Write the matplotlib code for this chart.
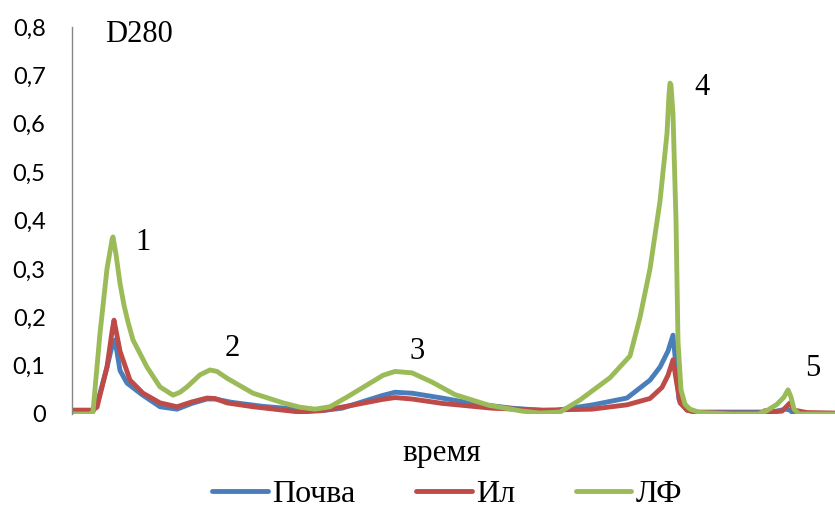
import matplotlib
matplotlib.use("Agg")
import matplotlib.pyplot as plt
from matplotlib.ticker import FuncFormatter

# --- data (time in arbitrary units, D280) ---
soil_t = [0, 20, 25, 35, 40, 43, 48, 55, 70, 88, 105, 120, 135, 143, 160, 190,
          230, 250, 270, 290, 310, 323, 340, 370, 400, 440, 480, 521, 555, 578,
          588, 596, 601, 604, 607, 615, 625, 660, 700, 714, 718, 722, 763]
soil_v = [0.002, 0.002, 0.02, 0.097, 0.14, 0.153, 0.09, 0.064, 0.04, 0.015, 0.01,
          0.022, 0.031, 0.031, 0.024, 0.016, 0.009, 0.007, 0.012, 0.025, 0.038,
          0.045, 0.043, 0.033, 0.022, 0.012, 0.006, 0.019, 0.033, 0.07, 0.097,
          0.13, 0.163, 0.10, 0.03, 0.008, 0.004, 0.004, 0.004, 0.01, 0.008, 0.0, 0.0]

silt_t = [0, 20, 25, 35, 40, 42, 48, 58, 71, 88, 105, 120, 135, 143, 155, 181,
          228, 250, 280, 310, 323, 340, 370, 420, 470, 520, 555, 578, 590, 596,
          601, 605, 608, 615, 625, 660, 690, 693, 697, 710, 718, 722, 735, 763]
silt_v = [0.008, 0.008, 0.014, 0.097, 0.17, 0.194, 0.13, 0.07, 0.043, 0.023, 0.015,
          0.025, 0.033, 0.032, 0.023, 0.015, 0.004, 0.007, 0.018, 0.03, 0.034,
          0.031, 0.022, 0.012, 0.008, 0.01, 0.019, 0.032, 0.055, 0.08, 0.112,
          0.06, 0.023, 0.008, 0.003, 0.002, 0.002, 0.007, 0.004, 0.006, 0.023,
          0.008, 0.003, 0.002]

lf_t = [0, 18, 21, 28, 35, 40, 41, 44, 48, 52, 56, 61, 75, 88, 101, 108, 115, 128,
        138, 145, 155, 181, 211, 228, 243, 258, 275, 295, 311, 323, 340, 360, 383,
        417, 450, 468, 488, 508, 538, 558, 568, 578, 588, 595, 597, 598, 599, 601,
        604, 606, 609, 613, 618, 628, 660, 686, 694, 705, 712, 716, 719, 722, 727,
        763]
lf_v = [0.0, 0.0, 0.005, 0.167, 0.3, 0.36, 0.366, 0.33, 0.27, 0.225, 0.19, 0.153,
        0.097, 0.056, 0.039, 0.045, 0.056, 0.081, 0.091, 0.088, 0.074, 0.043, 0.023,
        0.014, 0.01, 0.015, 0.035, 0.06, 0.08, 0.088, 0.085, 0.066, 0.04, 0.018,
        0.006, 0.002, 0.004, 0.029, 0.075, 0.12, 0.2, 0.30, 0.44, 0.58, 0.66, 0.684,
        0.68, 0.62, 0.40, 0.15, 0.05, 0.02, 0.01, 0.003, 0.0, 0.0, 0.006, 0.02,
        0.035, 0.05, 0.035, 0.01, 0.0, 0.0]

series = [
    ("Почва", soil_t, soil_v, "#4A7EBB"),
    ("Ил", silt_t, silt_v, "#BE4B48"),
    ("ЛФ", lf_t, lf_v, "#9BBB59"),
]

peak_labels = ["1", "2", "3", "4", "5"]
peak_label_t = [71, 160, 345, 630, 741]
peak_label_v = [0.355, 0.135, 0.13, 0.675, 0.095]

y_ticks = [0, 0.1, 0.2, 0.3, 0.4, 0.5, 0.6, 0.7, 0.8]

SERIF = "Liberation Serif"

fig = plt.figure(figsize=(8.35, 5.08), dpi=100)
ax = fig.add_axes([72 / 835, 94 / 508, 763 / 835, 387 / 508])

for name, t, v, color in series:
    ax.plot(t, v, color=color, lw=3.5, label=name,
            solid_joinstyle="round", solid_capstyle="round")

ax.set_xlim(0, 763)
ax.set_ylim(0, 0.8)
ax.set_yticks(y_ticks)
ax.yaxis.set_major_formatter(FuncFormatter(lambda v, _: f"{v:g}".replace(".", ",")))
ax.set_xticks([])
ax.tick_params(axis="y", length=0, pad=19, labelsize=17)
for lab in ax.get_yticklabels():
    lab.set_fontfamily("Lato")

for side in ["top", "right", "bottom"]:
    ax.spines[side].set_visible(False)
ax.spines["left"].set_color("#868686")
ax.spines["left"].set_linewidth(1.0)

ax.text(33, 0.785, "D280", fontsize=22, family=SERIF, va="center")
for lab, t, v in zip(peak_labels, peak_label_t, peak_label_v):
    ax.text(t, v, lab, fontsize=22, family=SERIF, ha="center", va="center")

ax.set_xlabel("время", fontsize=22.5, family=SERIF)
ax.xaxis.set_label_coords(0.484, -0.065)

fig.legend(loc="center", bbox_to_anchor=(447 / 835, 1 - 494 / 508), ncol=3,
           frameon=False, prop={"family": SERIF, "size": 23},
           handlelength=1.75, handletextpad=0.12, columnspacing=1.9)

fig.savefig("out.png", dpi=100)
